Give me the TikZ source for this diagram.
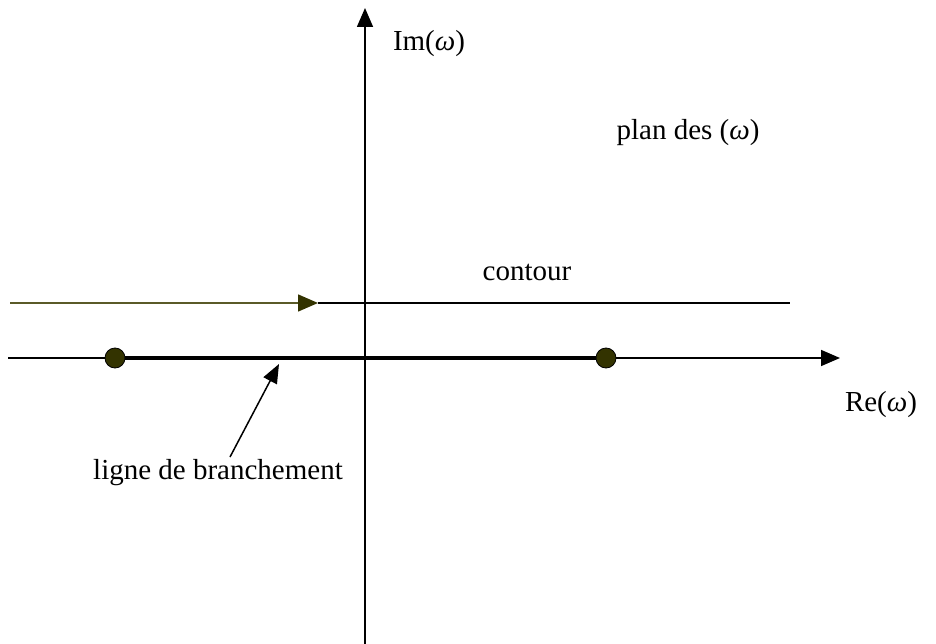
\documentclass[tikz,border=0pt]{standalone}
\usepackage{fontspec}
\setmainfont{Liberation Serif}
\usetikzlibrary{arrows.meta}
\definecolor{darkolive}{RGB}{51,51,0}
\definecolor{oliveline}{RGB}{90,90,40}
\tikzset{
  axis/.style={line width=1.6pt, -{Triangle[length=19pt,width=16pt]}},
  lbl/.style={font=\fontsize{29}{32}\selectfont, inner sep=0pt},
  branchdot/.style={circle, fill=darkolive, draw=black, line width=0.8pt, minimum size=20pt, inner sep=0pt},
}
\begin{document}
\begin{tikzpicture}[x=1pt,y=-1pt]
\useasboundingbox (0,0) rectangle (936,644);
% axes
\coordinate (vb) at (365,644);
\coordinate (vt) at (365,8);
\coordinate (hl) at (8,358);
\coordinate (hr) at (840,358);
\draw[axis] (vb) -- (vt);
\draw[axis] (hl) -- (hr);
% contour
\coordinate (cl) at (10,303);
\coordinate (cm) at (318,303);
\coordinate (cr) at (790,303);
\draw[line width=1.5pt] (cm) -- (cr);
\draw[line width=1.5pt, oliveline, -{Triangle[length=20pt,width=17pt,fill=darkolive,color=darkolive]}] (cl) -- (cm);
% branch cut
\node[branchdot] (p1) at (115,358) {};
\node[branchdot] (p2) at (606,358) {};
\draw[line width=4pt] (p1) -- (p2);
% labels
\node[lbl] (im) at (429,44) {Im(\textit{ω})};
\node[lbl] (plan) at (688,133) {plan des (\textit{ω})};
\node[lbl] (cont) at (527,272) {contour};
\node[lbl] (re) at (881,405) {Re(\textit{ω})};
\node[lbl] (lb) at (218,473) {ligne de branchement};
\coordinate (lbt) at (230,457);
\coordinate (lbh) at (279,364);
\draw[line width=1.5pt, -{Triangle[length=19pt,width=15pt]}] (lbt) -- (lbh);
\end{tikzpicture}
\end{document}
